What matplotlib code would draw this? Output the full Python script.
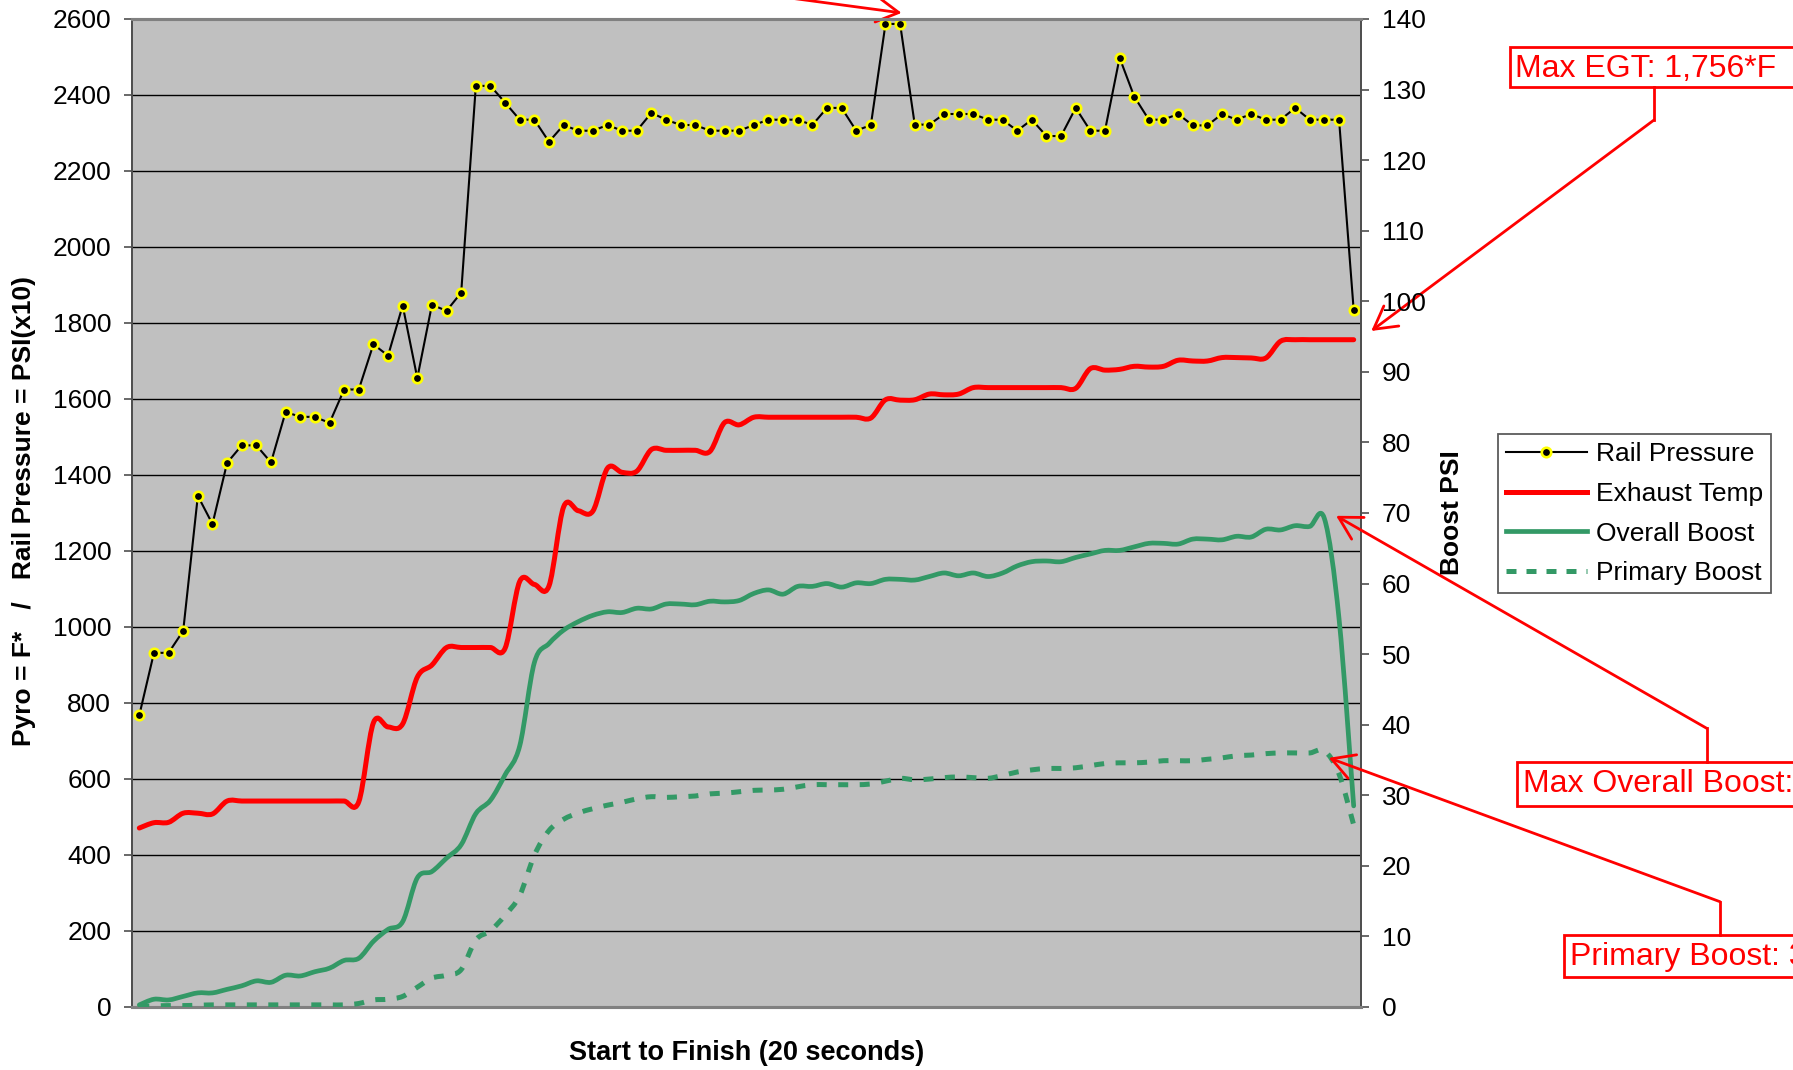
import matplotlib
matplotlib.use("Agg")
import matplotlib.pyplot as plt
from matplotlib.path import Path
from matplotlib.patches import PathPatch, Rectangle
from matplotlib.lines import Line2D

# ---------------- data (84 samples, start to finish) ----------------
rail_pressure = [768, 932, 932, 990, 1345, 1271, 1432, 1478, 1478, 1433,
                 1566, 1553, 1553, 1537, 1625, 1625, 1744, 1714, 1846, 1655,
                 1848, 1832, 1880, 2424, 2424, 2380, 2335, 2335, 2277, 2321,
                 2306, 2306, 2321, 2306, 2306, 2353, 2335, 2321, 2321, 2306,
                 2306, 2306, 2321, 2335, 2335, 2335, 2321, 2366, 2366, 2306,
                 2321, 2587, 2587, 2322, 2322, 2350, 2350, 2350, 2335, 2335,
                 2306, 2335, 2292, 2292, 2366, 2306, 2306, 2498, 2396, 2335,
                 2335, 2350, 2320, 2320, 2350, 2335, 2350, 2335, 2335, 2366,
                 2335, 2335, 2335, 1834]

exhaust_temp = [471, 485, 486, 510, 510, 508, 542, 542, 542, 542,
                542, 542, 542, 542, 542, 540, 748, 737, 745, 868,
                900, 946, 946, 946, 946, 944, 1120, 1112, 1108, 1316,
                1306, 1305, 1418, 1407, 1410, 1467, 1465, 1465, 1465, 1462,
                1538, 1532, 1552, 1552, 1552, 1552, 1552, 1552, 1552, 1552,
                1550, 1598, 1597, 1598, 1613, 1611, 1613, 1630, 1630, 1630,
                1630, 1630, 1630, 1630, 1628, 1680, 1676, 1678, 1686, 1684,
                1686, 1702, 1700, 1700, 1709, 1709, 1708, 1708, 1752, 1756,
                1756, 1756, 1756, 1756]

overall_boost = [0.3, 1.1, 1.0, 1.5, 2.0, 2.0, 2.5, 3.0, 3.7, 3.5,
                 4.5, 4.4, 5.0, 5.5, 6.6, 6.9, 9.3, 11.0, 12.1, 18.3,
                 19.2, 21.1, 23.0, 27.4, 29.3, 32.9, 37.0, 48.8, 51.5, 53.4,
                 54.6, 55.5, 56.0, 55.9, 56.5, 56.4, 57.1, 57.1, 57.0, 57.5,
                 57.4, 57.6, 58.6, 59.1, 58.5, 59.6, 59.6, 60.0, 59.5, 60.1,
                 60.0, 60.6, 60.6, 60.5, 61.0, 61.5, 61.1, 61.5, 61.0, 61.5,
                 62.5, 63.1, 63.2, 63.1, 63.7, 64.2, 64.7, 64.7, 65.2, 65.7,
                 65.7, 65.6, 66.3, 66.3, 66.2, 66.7, 66.6, 67.7, 67.6, 68.2,
                 68.1, 69.2, 55.0, 28.5]

primary_boost = [0.1, 0.15, 0.2, 0.2, 0.25, 0.3, 0.3, 0.3, 0.3, 0.3,
                 0.3, 0.3, 0.3, 0.3, 0.3, 0.5, 1.0, 1.1, 1.5, 2.8,
                 4.1, 4.5, 5.3, 9.5, 10.8, 13.0, 15.8, 21.5, 25.0, 26.6,
                 27.5, 28.1, 28.6, 29.0, 29.5, 29.8, 29.7, 29.8, 29.9, 30.2,
                 30.3, 30.5, 30.7, 30.75, 30.85, 31.2, 31.5, 31.5, 31.5, 31.5,
                 31.6, 32.0, 32.4, 32.2, 32.3, 32.5, 32.6, 32.5, 32.4, 32.8,
                 33.3, 33.6, 33.8, 33.8, 33.9, 34.2, 34.5, 34.6, 34.6, 34.7,
                 34.9, 34.9, 34.9, 35.1, 35.3, 35.6, 35.7, 35.9, 36.0, 36.0,
                 36.0, 36.3, 33.0, 25.8]

left_ticks = list(range(0, 2601, 200))
right_ticks = list(range(0, 141, 10))

# ---------------- figure ----------------
W, H = 1793, 1070
DPI = 100
plt.rcParams['font.family'] = ['Liberation Sans', 'DejaVu Sans']
fig = plt.figure(figsize=(W / DPI, H / DPI), dpi=DPI)
fig.patch.set_facecolor('white')

L, R, T, B = 132, 1361, 19, 1007
ax = fig.add_axes([L / W, 1 - B / H, (R - L) / W, (B - T) / H])
ax.set_facecolor('#C0C0C0')
ax2 = ax.twinx()
ax2.patch.set_visible(False)

n = len(rail_pressure)
xs = list(range(n))
ax.set_xlim(-0.5, n - 0.5)
ax.set_ylim(0, 2600)
ax2.set_ylim(0, 140)
ax.set_yticks(left_ticks)
ax2.set_yticks(right_ticks)
ax.set_xticks([])
ax.yaxis.grid(True, color='black', lw=1.0)
ax.set_axisbelow(True)

for a in (ax, ax2):
    a.tick_params(axis='y', direction='out', length=5.5, width=1.1,
                  color='#404040', labelsize=19, pad=9.5, labelcolor='black')
    for s in ('top', 'bottom'):
        a.spines[s].set_color('#808080')
        a.spines[s].set_linewidth(2.2)
    a.spines['left'].set_color('#505050')
    a.spines['right'].set_color('#505050')
    a.spines['left'].set_linewidth(1.4)
    a.spines['right'].set_linewidth(1.4)


def smooth_path(xv, yv):
    m = len(xv)
    verts = [(xv[0], yv[0])]
    codes = [Path.MOVETO]
    for i in range(m - 1):
        i0, i3 = max(i - 1, 0), min(i + 2, m - 1)
        c1 = (xv[i] + (xv[i + 1] - xv[i0]) / 6.0, yv[i] + (yv[i + 1] - yv[i0]) / 6.0)
        c2 = (xv[i + 1] - (xv[i3] - xv[i]) / 6.0, yv[i + 1] - (yv[i3] - yv[i]) / 6.0)
        verts += [c1, c2, (xv[i + 1], yv[i + 1])]
        codes += [Path.CURVE4] * 3
    return Path(verts, codes)


RED = '#FF0000'
GREEN = '#339966'

# Exhaust temp (smoothed, left axis)
ax.add_patch(PathPatch(smooth_path(xs, exhaust_temp), fill=False, edgecolor=RED,
                       lw=3.6, capstyle='round', joinstyle='round', zorder=3))
# Rail pressure (straight with markers, left axis)
ax.plot(xs, rail_pressure, color='black', lw=1.5, marker='o', ms=6.8,
        mfc='black', mec='#FFFF00', mew=1.9, zorder=4)
# Boosts (smoothed, right axis)
ax2.add_patch(PathPatch(smooth_path(xs, overall_boost), fill=False, edgecolor=GREEN,
                        lw=3.4, capstyle='round', joinstyle='round', zorder=3))
ax2.add_patch(PathPatch(smooth_path(xs, primary_boost), fill=False, edgecolor=GREEN,
                        lw=3.6, capstyle='butt', joinstyle='round',
                        linestyle=(0, (2.0, 2.3)), zorder=3))

# ---------------- legend ----------------
handles = [
    Line2D([], [], color='black', lw=1.5, marker='o', ms=6.8, mfc='black',
           mec='#FFFF00', mew=1.9),
    Line2D([], [], color=RED, lw=3.6),
    Line2D([], [], color=GREEN, lw=3.4),
    Line2D([], [], color=GREEN, lw=3.6, linestyle=(0, (2.0, 2.0)), dash_capstyle='butt'),
]
labels = ['Rail Pressure', 'Exhaust Temp', 'Overall Boost', 'Primary Boost']
leg = fig.legend(handles, labels, loc='upper left',
                 bbox_to_anchor=(1498 / W, 1 - 434 / H), bbox_transform=fig.transFigure,
                 fontsize=19, frameon=True, fancybox=False, shadow=False,
                 borderpad=0.3, labelspacing=0.6, handlelength=3.07,
                 handletextpad=0.35, borderaxespad=0, numpoints=1)
leg.get_frame().set_edgecolor('#333333')
leg.get_frame().set_linewidth(1.3)

# ---------------- axis titles ----------------
fig.text(24 / W, 1 - 511 / H, 'Pyro = F*   /   Rail Pressure = PSI(x10)',
         rotation=90, ha='center', va='center', fontsize=19, fontweight='bold')
fig.text(1452 / W, 1 - 513 / H, 'Boost PSI', rotation=90, ha='center',
         va='center', fontsize=19, fontweight='bold')
fig.text(747 / W, 1 - 1053 / H, 'Start to Finish (20 seconds)', ha='center',
         va='center', fontsize=19.5, fontweight='bold')

# ---------------- callouts ----------------
def box(x0, y_top, y_bot):
    fig.add_artist(Rectangle((x0 / W, 1 - y_bot / H), (W + 40 - x0) / W, (y_bot - y_top) / H,
                             transform=fig.transFigure, facecolor='white',
                             edgecolor=RED, lw=2.0, zorder=5))


def vline(x, y1, y2):
    fig.add_artist(Line2D([x / W, x / W], [1 - y1 / H, 1 - y2 / H],
                          transform=fig.transFigure, color=RED, lw=2.0, zorder=5))


arrow_style = dict(arrowstyle='->,head_length=0.8,head_width=0.45', color=RED,
                   lw=2.0, shrinkA=0, shrinkB=0, mutation_scale=20)

# Max EGT
box(1510, 46.7, 87.3)
fig.text(1515 / W, 1 - 77 / H, 'Max EGT: 1,756*F', color=RED, fontsize=23,
         ha='left', va='baseline', zorder=6)
vline(1654, 87.3, 120)
ax.annotate('', xy=(84.2, 1779), xycoords='data', xytext=(1654, H - 120),
            textcoords='figure pixels', arrowprops=arrow_style, annotation_clip=False)

# Max Overall Boost (runs past the right edge, as in the original)
box(1516.7, 761.7, 805.7)
fig.text(1522.7 / W, 1 - 792 / H, 'Max Overall Boost: 69 PSI', color=RED,
         fontsize=23, ha='left', va='baseline', zorder=6)
vline(1706.7, 761.7, 728.3)
ax2.annotate('', xy=(81.8, 69.6), xycoords='data', xytext=(1706.7, H - 728.3),
             textcoords='figure pixels', arrowprops=arrow_style, annotation_clip=False)

# Primary Boost (runs past the right edge, as in the original)
box(1564.3, 935, 976.7)
fig.text(1570 / W, 1 - 965 / H, 'Primary Boost: 36 PSI', color=RED,
         fontsize=23, ha='left', va='baseline', zorder=6)
vline(1720, 935, 901.7)
ax2.annotate('', xy=(81.3, 35.3), xycoords='data', xytext=(1720, H - 901.7),
             textcoords='figure pixels', arrowprops=arrow_style, annotation_clip=False)

# Max rail pressure callout (box lies above the visible area)
ax.annotate('', xy=(52.1, 2616), xycoords='data', xytext=(441.7, H + 48.6),
            textcoords='figure pixels', arrowprops=arrow_style, annotation_clip=False)

fig.savefig('out.png', dpi=DPI, facecolor='white')
